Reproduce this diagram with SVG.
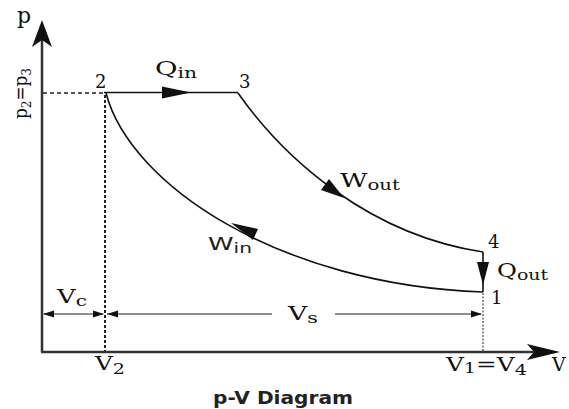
<svg xmlns="http://www.w3.org/2000/svg" width="569" height="409" viewBox="0 0 569 409">
<style>
.axis{stroke:#333;stroke-width:2.5;fill:none}
.curve{stroke:#111;stroke-width:1.6;fill:none}
.head{fill:#111;stroke:none}
.dim{stroke:#222;stroke-width:1.2;fill:none}
.lbl{font-family:"DejaVu Serif","Liberation Serif",serif;fill:#111}
.sans{font-family:"DejaVu Sans","Liberation Sans",sans-serif;fill:#222}
</style>
<rect width="569" height="409" fill="#fff"/>
<g id="connectors">
  <line class="axis" x1="42" y1="352" x2="42" y2="38"/>
  <polygon class="head" points="42,20 32,47 42,40 52,47"/>
  <line class="axis" x1="41" y1="352" x2="540" y2="352"/>
  <polygon class="head" points="560,352 527,344 534,352 527,360"/>
  <line x1="43" y1="93" x2="104" y2="93" stroke="#222" stroke-width="1.3" stroke-dasharray="4 3"/>
  <line x1="105" y1="95" x2="105" y2="352" stroke="#222" stroke-width="2" stroke-dasharray="3 2"/>
  <line x1="483" y1="293" x2="483" y2="352" stroke="#444" stroke-width="1.2" stroke-dasharray="2 1.5"/>
  <line class="curve" x1="104" y1="92.5" x2="238" y2="92.5"/>
  <polygon class="head" points="191,92.5 162,86.5 162,98.5"/>
  <path class="curve" d="M238,93 C285,160 370,235 483,252"/>
  <polygon class="head" points="344,198 321,190 329,179"/>
  <line class="curve" x1="483" y1="252" x2="483" y2="292"/>
  <polygon class="head" points="483,285 477,262 489,262"/>
  <path class="curve" d="M106,93 C130,185 280,285 483,292"/>
  <polygon class="head" points="231,223 258,229 253,240"/>
  <line class="dim" x1="44" y1="314" x2="103" y2="314"/>
  <polygon class="head" points="43,314 54,310.5 54,317.5"/>
  <polygon class="head" points="104,314 93,310.5 93,317.5"/>
  <line class="dim" x1="107" y1="314" x2="272" y2="314"/>
  <line class="dim" x1="335" y1="314" x2="481" y2="314"/>
  <polygon class="head" points="107,314 118,310.5 118,317.5"/>
  <polygon class="head" points="482,314 471,310.5 471,317.5"/>
</g>
<g id="axis-p"><text class="lbl" x="17" y="23" font-size="22">p</text></g>
<g id="axis-p23"><text class="lbl" font-size="18" transform="translate(27,119) rotate(-90)" textLength="51" lengthAdjust="spacingAndGlyphs">p<tspan font-size="13" dy="4">2</tspan><tspan dy="-4">=p</tspan><tspan font-size="13" dy="4">3</tspan></text></g>
<g id="node-2"><text class="lbl" x="95" y="88" font-size="18">2</text></g>
<g id="node-3"><text class="lbl" x="239" y="88" font-size="18">3</text></g>
<g id="node-4"><text class="lbl" x="488" y="248" font-size="18">4</text></g>
<g id="node-1"><text class="lbl" x="491" y="304" font-size="18">1</text></g>
<g id="label-qin"><text class="lbl" x="155" y="75" font-size="19" textLength="42" lengthAdjust="spacingAndGlyphs">Q<tspan font-size="14" dy="3">in</tspan></text></g>
<g id="label-wout"><text class="lbl" x="340" y="187" font-size="19" textLength="60" lengthAdjust="spacingAndGlyphs">W<tspan font-size="14" dy="3">out</tspan></text></g>
<g id="label-qout"><text class="lbl" x="497" y="277" font-size="18" textLength="51" lengthAdjust="spacingAndGlyphs">Q<tspan font-size="14" dy="3">out</tspan></text></g>
<g id="label-win"><text class="sans" x="208" y="250" font-size="18" textLength="44" lengthAdjust="spacingAndGlyphs">W<tspan font-size="14" dy="3">in</tspan></text></g>
<g id="label-vc"><text class="lbl" x="57" y="303" font-size="18" textLength="30" lengthAdjust="spacingAndGlyphs">V<tspan font-size="14" dy="3">c</tspan></text></g>
<g id="label-vs"><text class="lbl" x="288" y="320" font-size="18" textLength="30" lengthAdjust="spacingAndGlyphs">V<tspan font-size="14" dy="3">s</tspan></text></g>
<g id="label-v2"><text class="lbl" x="95" y="370" font-size="18" textLength="30" lengthAdjust="spacingAndGlyphs">V<tspan font-size="14" dy="4">2</tspan></text></g>
<g id="label-v14"><text class="lbl" x="446" y="371" font-size="18" textLength="81" lengthAdjust="spacingAndGlyphs">V<tspan font-size="14" dy="2">1</tspan><tspan dy="-2">=V</tspan><tspan font-size="14" dy="4">4</tspan></text></g>
<g id="axis-v"><text class="lbl" x="552" y="371" font-size="19">V</text></g>
<g id="title"><text class="sans" x="283" y="404" font-size="18" font-weight="bold" text-anchor="middle" fill="#111" textLength="140" lengthAdjust="spacingAndGlyphs">p-V Diagram</text></g>
</svg>
